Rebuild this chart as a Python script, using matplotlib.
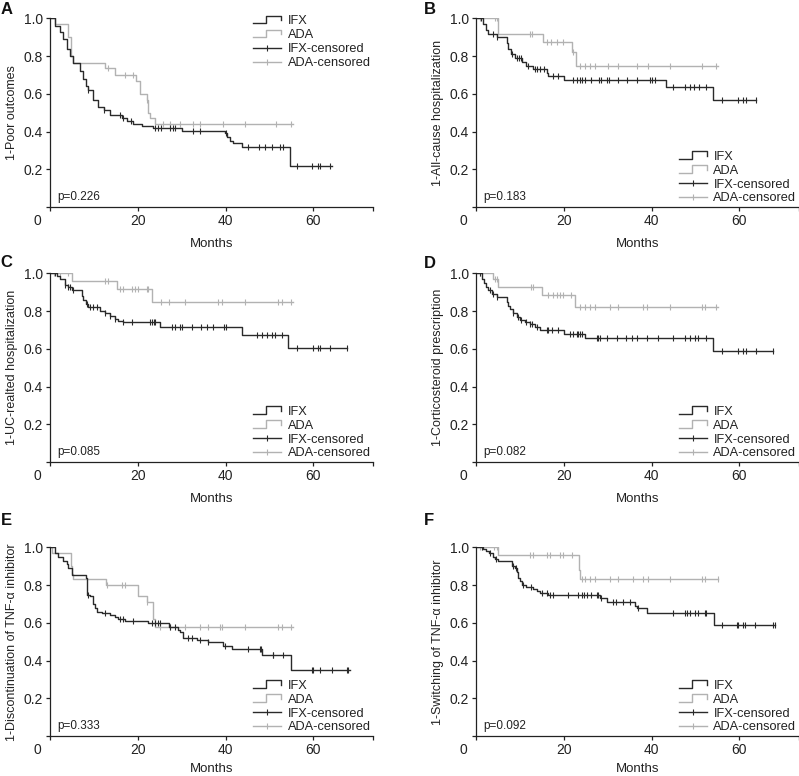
import numpy as np
import matplotlib
matplotlib.use("Agg")
from matplotlib import pyplot as plt
from matplotlib.lines import Line2D
from matplotlib.legend_handler import HandlerBase
from matplotlib.transforms import ScaledTranslation

plt.rcParams['font.family'] = ['Liberation Sans', 'DejaVu Sans']

IFX_COLOR = "#2a2a2a"
ADA_COLOR = "#b2b2b2"
TEXT_COLOR = "#222222"
XMAX = 73.6

panel_letters = ["A", "B", "C", "D", "E", "F"]
ylabels = ["1-Poor outcomes",
           "1-All-cause hospitalization",
           "1-UC-realted hospitalization",
           "1-Corticosteroid prescription",
           "1-Discontinuation of TNF-\u03b1 inhibitor",
           "1-Switching of TNF-\u03b1 inhibitor"]
pvalues = ["p=0.226", "p=0.183", "p=0.085", "p=0.082", "p=0.333", "p=0.092"]
legend_upper = [True, False, False, False, False, False]

# --- A: poor outcomes
a_ifx_t = [0, 1.1, 2.3, 3.0, 3.8, 4.5, 5.2, 6.8, 7.6, 8.2, 8.7, 9.9, 11.0, 12.2, 13.7, 16.5, 17.5, 19.0,
           21.0, 23.5, 30.0, 39.8, 40.3, 41.0, 41.8, 43.7, 54.6, 64.2]
a_ifx_s = [1.0, 0.96, 0.93, 0.89, 0.84, 0.80, 0.765, 0.72, 0.68, 0.64, 0.62, 0.57, 0.53, 0.515, 0.49, 0.47,
           0.455, 0.44, 0.43, 0.42, 0.405, 0.39, 0.37, 0.35, 0.34, 0.32, 0.215, 0.215]
a_ifx_c = [8.7, 12.2, 16.0, 16.7, 18.4, 24.0, 24.5, 25.2, 27.3, 28.0, 28.4, 32.6, 34.2, 40.0, 45.2, 47.7,
           49.0, 50.5, 52.4, 53.0, 56.2, 59.8, 61.1, 61.6, 63.9]
a_ada_t = [0, 1.1, 4.2, 4.7, 5.2, 12.5, 14.8, 19.7, 20.5, 22.0, 22.4, 22.8, 24.0, 55.4]
a_ada_s = [1.0, 0.97, 0.90, 0.80, 0.765, 0.735, 0.70, 0.67, 0.60, 0.57, 0.50, 0.47, 0.44, 0.44]
a_ada_c = [13.3, 17.0, 19.0, 22.0, 25.8, 27.3, 29.6, 32.6, 34.2, 39.5, 44.4, 51.6, 55.0]

# --- B: all-cause hospitalization
b_ifx_t = [0, 1.7, 2.3, 2.8, 4.7, 7.0, 7.4, 8.0, 8.9, 10.4, 11.5, 13.1, 16.1, 16.5, 20.0, 43.4, 53.9, 63.9]
b_ifx_s = [1.0, 0.97, 0.94, 0.92, 0.90, 0.87, 0.84, 0.81, 0.79, 0.77, 0.75, 0.73, 0.71, 0.695, 0.675,
           0.635, 0.565, 0.565]
b_ifx_c = [1.1, 3.9, 4.9, 8.1, 9.3, 9.7, 10.2, 11.9, 13.4, 14.0, 14.6, 15.5, 17.6, 18.8, 22.2, 23.0, 23.6,
           24.2, 24.8, 26.3, 28.0, 28.6, 29.8, 30.2, 32.4, 34.3, 36.8, 39.6, 40.2, 40.8, 45.0, 47.7, 48.8,
           49.6, 50.9, 52.4, 56.0, 59.8, 60.9, 61.5, 63.9]
b_ada_t = [0, 5.1, 15.2, 21.8, 22.9, 55.2]
b_ada_s = [1.0, 0.92, 0.875, 0.82, 0.75, 0.75]
b_ada_c = [0.9, 1.5, 4.3, 4.7, 12.3, 12.7, 16.1, 17.0, 18.5, 19.9, 22.0, 23.7, 24.8, 26.0, 27.1, 30.1,
           32.4, 36.6, 39.3, 44.2, 51.4, 54.8]

# --- C: UC-related hospitalization
c_ifx_t = [0, 1.5, 2.3, 3.4, 4.2, 4.9, 7.2, 7.6, 8.2, 8.7, 11.4, 12.5, 13.7, 14.8, 15.6, 16.7, 25.1,
           43.7, 54.2, 67.6]
c_ifx_s = [1.0, 0.985, 0.97, 0.94, 0.93, 0.91, 0.88, 0.86, 0.84, 0.82, 0.80, 0.79, 0.775, 0.76, 0.75,
           0.74, 0.715, 0.675, 0.605, 0.605]
c_ifx_c = [1.1, 3.4, 4.2, 4.6, 5.2, 8.4, 9.1, 9.9, 10.6, 12.5, 13.7, 14.8, 16.7, 18.6, 22.8, 23.2, 23.6,
           23.9, 27.7, 28.5, 29.6, 30.0, 32.3, 34.5, 35.8, 37.2, 39.6, 40.1, 47.1, 48.2, 49.4, 50.5, 51.3,
           52.8, 56.2, 60.0, 61.1, 61.6, 63.8, 67.6]
c_ada_t = [0, 4.9, 15.2, 23.2, 55.4]
c_ada_s = [1.0, 0.96, 0.915, 0.85, 0.85]
c_ada_c = [0.8, 2.3, 4.2, 12.5, 13.3, 16.0, 16.7, 18.6, 19.4, 20.1, 22.0, 22.4, 25.4, 27.0, 30.8, 38.3,
           39.1, 44.4, 52.0, 52.8, 55.0]

# --- D: corticosteroid prescription
d_ifx_t = [0, 1.3, 1.8, 2.3, 2.8, 3.6, 4.7, 7.0, 7.4, 7.7, 8.5, 9.3, 10.0, 11.2, 12.3, 13.4, 14.6, 20.0,
           24.8, 54.1, 67.7]
d_ifx_s = [1.0, 0.97, 0.95, 0.93, 0.91, 0.89, 0.875, 0.85, 0.83, 0.81, 0.79, 0.77, 0.755, 0.74, 0.73,
           0.715, 0.70, 0.68, 0.66, 0.59, 0.59]
d_ifx_c = [0.9, 3.2, 3.9, 4.9, 8.5, 9.6, 10.3, 11.5, 12.3, 12.7, 13.8, 16.1, 16.5, 17.3, 18.8, 21.4, 22.2,
           23.0, 23.3, 23.7, 24.1, 27.5, 27.9, 28.3, 29.8, 32.2, 34.1, 35.5, 36.6, 38.9, 41.5, 44.9, 47.6,
           48.8, 49.9, 50.6, 52.5, 56.0, 59.8, 60.9, 61.5, 63.8, 67.7]
d_ada_t = [0, 3.9, 5.1, 15.0, 22.6, 55.2]
d_ada_s = [1.0, 0.97, 0.93, 0.885, 0.82, 0.82]
d_ada_c = [0.9, 4.3, 4.7, 12.5, 13.0, 16.5, 17.6, 18.4, 19.1, 19.9, 21.7, 23.7, 24.8, 26.0, 27.1, 30.5,
           32.4, 38.1, 38.9, 44.2, 51.4, 52.2, 54.8]

# --- E: discontinuation of TNF-a inhibitor
e_ifx_t = [0, 1.1, 1.9, 3.0, 3.8, 4.2, 4.9, 8.2, 8.5, 9.1, 9.7, 10.3, 10.6, 11.8, 13.7, 14.8, 15.6, 17.1,
           22.4, 27.0, 29.2, 29.6, 30.2, 33.4, 35.9, 39.5, 41.5, 48.4, 54.8, 68.3]
e_ifx_s = [1.0, 0.97, 0.95, 0.93, 0.91, 0.89, 0.855, 0.84, 0.75, 0.74, 0.70, 0.68, 0.66, 0.65, 0.64,
           0.63, 0.62, 0.61, 0.60, 0.58, 0.56, 0.55, 0.52, 0.51, 0.50, 0.48, 0.46, 0.43, 0.35, 0.35]
e_ifx_c = [8.7, 12.5, 16.0, 16.7, 18.8, 23.2, 23.9, 24.5, 25.1, 27.3, 28.5, 31.5, 32.3, 34.2, 36.0, 39.9,
           45.2, 47.8, 48.0, 50.7, 50.9, 53.0, 59.6, 60.0, 61.5, 64.2, 67.6, 68.0]
e_ada_t = [0, 0.4, 4.7, 5.0, 5.2, 12.8, 20.1, 22.0, 23.4, 23.9, 55.4]
e_ada_s = [1.0, 0.97, 0.90, 0.86, 0.835, 0.80, 0.74, 0.71, 0.62, 0.58, 0.58]
e_ada_c = [12.9, 16.3, 17.1, 22.2, 25.1, 27.3, 30.8, 34.2, 36.0, 38.7, 39.1, 44.4, 52.0, 52.8, 55.0]

# --- F: switching of TNF-a inhibitor
f_ifx_t = [0, 1.7, 2.3, 3.0, 3.8, 4.3, 5.1, 8.1, 8.9, 9.3, 9.6, 10.0, 10.6, 11.5, 13.1, 13.8, 14.6, 16.5,
           28.2, 29.8, 36.2, 36.8, 39.0, 54.2, 68.1]
f_ifx_s = [1.0, 0.99, 0.98, 0.97, 0.95, 0.94, 0.93, 0.90, 0.89, 0.87, 0.84, 0.82, 0.80, 0.79, 0.78, 0.77,
           0.76, 0.75, 0.73, 0.71, 0.69, 0.68, 0.65, 0.59, 0.59]
f_ifx_c = [1.3, 3.2, 4.6, 8.5, 9.1, 10.8, 12.5, 15.0, 16.1, 16.9, 17.5, 21.0, 23.3, 24.1, 24.6, 25.2,
           26.3, 27.5, 27.9, 28.6, 31.3, 32.0, 33.6, 35.1, 37.0, 44.9, 47.6, 48.1, 48.7, 49.9, 50.6, 52.2,
           52.5, 56.0, 59.5, 59.8, 60.9, 61.3, 63.6, 67.6, 68.1]
f_ada_t = [0, 5.1, 23.5, 23.7, 55.2]
f_ada_s = [1.0, 0.962, 0.88, 0.835, 0.835]
f_ada_c = [0.9, 1.3, 4.0, 4.7, 12.3, 13.1, 16.1, 16.9, 19.1, 19.9, 21.8, 24.1, 24.8, 26.0, 27.1, 30.5,
           32.4, 35.8, 38.1, 39.3, 44.2, 51.4, 52.2, 55.2]

panels = [
    (a_ifx_t, a_ifx_s, a_ifx_c, a_ada_t, a_ada_s, a_ada_c),
    (b_ifx_t, b_ifx_s, b_ifx_c, b_ada_t, b_ada_s, b_ada_c),
    (c_ifx_t, c_ifx_s, c_ifx_c, c_ada_t, c_ada_s, c_ada_c),
    (d_ifx_t, d_ifx_s, d_ifx_c, d_ada_t, d_ada_s, d_ada_c),
    (e_ifx_t, e_ifx_s, e_ifx_c, e_ada_t, e_ada_s, e_ada_c),
    (f_ifx_t, f_ifx_s, f_ifx_c, f_ada_t, f_ada_s, f_ada_c),
]


class StepHandler(HandlerBase):
    """little step-shaped legend key, like the SPSS output"""
    def create_artists(self, legend, orig_handle, xdescent, ydescent, width, height, fontsize, trans):
        x0 = -xdescent
        y0 = -ydescent
        xs = [x0, x0 + 0.45 * width, x0 + 0.45 * width, x0 + width, x0 + width]
        ys = [y0 + 0.1 * height, y0 + 0.1 * height, y0 + 0.95 * height, y0 + 0.95 * height, y0 + 0.45 * height]
        line = Line2D(xs, ys, color=orig_handle.get_color(), lw=orig_handle.get_linewidth())
        line.set_transform(trans)
        return [line]


def censor_levels(t, s, c):
    idx = np.searchsorted(np.asarray(t), np.asarray(c), side="right") - 1
    return np.asarray(s)[idx]


def plot_panel(ax, data, ylabel, pval, upper, xpad):
    ifx_t, ifx_s, ifx_c, ada_t, ada_s, ada_c = data
    ax.step(ada_t, ada_s, where="post", color=ADA_COLOR, lw=1.0)
    ax.plot(ada_c, censor_levels(ada_t, ada_s, ada_c), ls="none", marker="|", ms=5, mew=0.8, color=ADA_COLOR)
    ax.step(ifx_t, ifx_s, where="post", color=IFX_COLOR, lw=1.0)
    ax.plot(ifx_c, censor_levels(ifx_t, ifx_s, ifx_c), ls="none", marker="|", ms=5, mew=0.8, color=IFX_COLOR)

    ax.set_xlim(0, XMAX)
    ax.set_ylim(0, 1.0)
    ax.set_xticks([0, 20, 40, 60])
    ax.set_xticklabels(["", "20", "40", "60"])
    ax.set_xticks([XMAX], minor=True)
    ax.set_yticks([0, 0.2, 0.4, 0.6, 0.8, 1.0])
    ax.set_yticklabels(["", "0.2", "0.4", "0.6", "0.8", "1.0"])
    ax.tick_params(which="both", direction="out", length=3, width=0.9, pad=2, labelsize=10,
                   colors=TEXT_COLOR)
    for side in ["top", "right"]:
        ax.spines[side].set_visible(False)
    for side in ["left", "bottom"]:
        ax.spines[side].set_linewidth(0.9)
        ax.spines[side].set_color(TEXT_COLOR)

    # shared origin label sits left of the y axis
    ax.text(0, 0, "0", fontsize=10, color=TEXT_COLOR, ha="center", va="top",
            transform=ax.transAxes + ScaledTranslation(-13 / 100, -7 / 100, ax.figure.dpi_scale_trans))

    ax.set_xlabel("Months", fontsize=9.5, color=TEXT_COLOR, labelpad=xpad)
    ax.set_ylabel(ylabel, fontsize=9, color=TEXT_COLOR, labelpad=4)
    ax.text(0.022, 0.053, pval, transform=ax.transAxes, fontsize=8.5, color=TEXT_COLOR, va="center")

    h_ifx = Line2D([], [], color=IFX_COLOR, lw=1.0)
    h_ada = Line2D([], [], color=ADA_COLOR, lw=1.0)
    h_ifx_c = Line2D([], [], color=IFX_COLOR, lw=1.0, marker="|", ms=5, mew=0.8)
    h_ada_c = Line2D([], [], color=ADA_COLOR, lw=1.0, marker="|", ms=5, mew=0.8)
    if upper:
        loc, anchor = "upper right", (1.0, 1.03)
    else:
        loc, anchor = "lower right", (1.0, 0.0)
    ax.legend([h_ifx, h_ada, h_ifx_c, h_ada_c], ["IFX", "ADA", "IFX-censored", "ADA-censored"],
              loc=loc, bbox_to_anchor=anchor, frameon=False, fontsize=9.2, numpoints=1,
              handlelength=2.2, handletextpad=0.5, labelspacing=0.15, borderpad=0.2,
              borderaxespad=0.0, labelcolor=TEXT_COLOR,
              handler_map={h_ifx: StepHandler(), h_ada: StepHandler()})


fig = plt.figure(figsize=(7.99, 7.76), dpi=100)
lefts = [0.0626, 0.5957]
bottoms = [0.7332, 0.4046, 0.0515]
width, height = 0.4043, 0.2430
letter_pos = [(0.001, 0.997), (0.530, 0.997), (0.001, 0.671), (0.530, 0.670), (0.001, 0.339), (0.530, 0.339)]

for i in range(6):
    ax = fig.add_axes([lefts[i % 2], bottoms[i // 2], width, height])
    xpad = 4.5 if i >= 4 else 7
    plot_panel(ax, panels[i], ylabels[i], pvalues[i], legend_upper[i], xpad)
    fig.text(letter_pos[i][0], letter_pos[i][1], panel_letters[i], fontsize=12, fontweight="bold",
             ha="left", va="top", color="#111111")

fig.savefig("out.png", dpi=100)
